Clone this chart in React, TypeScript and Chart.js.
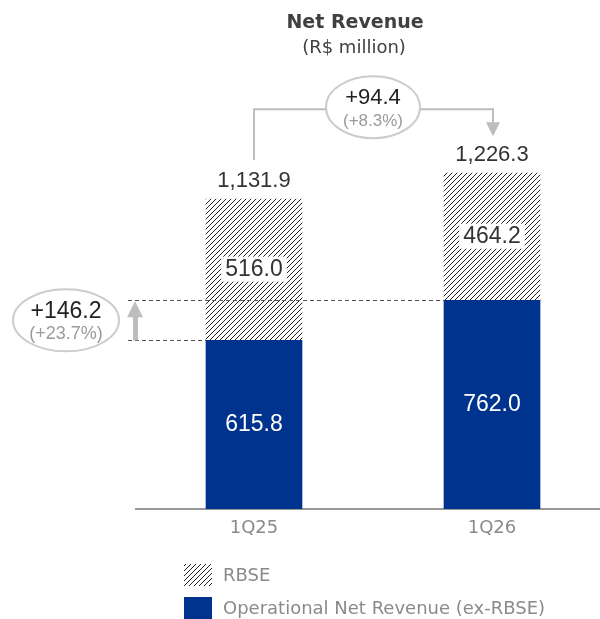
import React, { useEffect, useRef } from 'react';
import { Chart, registerables } from 'chart.js';

Chart.register(...registerables);

const categories = ['1Q25', '1Q26'];
const operationalValues = [615.8, 762.0];
const rbseValues = [516.0, 464.2];
const totalValues = [1131.9, 1226.3];
const seriesLabels = ['Operational Net Revenue (ex-RBSE)', 'RBSE'];
const titleText = 'Net Revenue';
const subtitleText = '(R$ million)';

const BLUE = '#00338D';
const SANS = '"Liberation Sans", Arial, sans-serif';
const DEJA = '"DejaVu Sans", Verdana, sans-serif';

function fmt(v: number): string {
  const fixed = Math.abs(v).toFixed(1);
  const [ip, dp] = fixed.split('.');
  const withComma = ip.replace(/\B(?=(\d{3})+(?!\d))/g, ',');
  return (v < 0 ? '-' : '') + withComma + '.' + dp;
}

function makeHatch(): CanvasPattern | string {
  const c = document.createElement('canvas');
  c.width = 5;
  c.height = 5;
  const g = c.getContext('2d');
  if (!g) return '#888';
  g.fillStyle = '#ffffff';
  g.fillRect(0, 0, 5, 5);
  g.strokeStyle = '#222222';
  g.lineWidth = 1;
  g.beginPath();
  g.moveTo(0, 5);
  g.lineTo(5, 0);
  g.moveTo(-1, 1);
  g.lineTo(1, -1);
  g.moveTo(4, 6);
  g.lineTo(6, 4);
  g.stroke();
  const p = g.createPattern(c, 'repeat');
  return p || '#888';
}

function labelBox(ctx: CanvasRenderingContext2D, text: string, x: number, y: number) {
  const w = ctx.measureText(text).width;
  ctx.fillStyle = '#ffffff';
  ctx.fillRect(x - w / 2 - 4, y - 12, w + 8, 25);
  ctx.fillStyle = '#333333';
  ctx.fillText(text, x, y + 1);
}

function ellipseBadge(
  ctx: CanvasRenderingContext2D,
  cx: number,
  cy: number,
  rx: number,
  ry: number,
  main: string,
  sub: string,
  mainSize: number,
  subSize: number
) {
  ctx.beginPath();
  ctx.ellipse(cx, cy, rx, ry, 0, 0, Math.PI * 2);
  ctx.fillStyle = '#ffffff';
  ctx.fill();
  ctx.lineWidth = 2;
  ctx.strokeStyle = '#cccccc';
  ctx.stroke();
  ctx.textAlign = 'center';
  ctx.textBaseline = 'middle';
  ctx.fillStyle = '#222222';
  ctx.font = `${mainSize}px ${SANS}`;
  ctx.fillText(main, cx, cy - 9);
  ctx.fillStyle = '#9a9a9a';
  ctx.font = `${subSize}px ${SANS}`;
  ctx.fillText(sub, cx, cy + 14);
}

const annotPlugin = {
  id: 'annot',
  afterDatasetsDraw(chart: any) {
    const ctx: CanvasRenderingContext2D = chart.ctx;
    const m0 = chart.getDatasetMeta(0);
    const m1 = chart.getDatasetMeta(1);
    const blue0 = m0.data[0] as any;
    const blue1 = m0.data[1] as any;
    const hat0 = m1.data[0] as any;
    const hat1 = m1.data[1] as any;
    const base = chart.scales.y.getPixelForValue(0);
    ctx.save();

    // title
    ctx.textAlign = 'center';
    ctx.textBaseline = 'middle';
    ctx.fillStyle = '#404040';
    ctx.font = `bold 19px ${DEJA}`;
    ctx.fillText(titleText, 355, 23);
    ctx.font = `18px ${DEJA}`;
    ctx.fillStyle = '#404040';
    ctx.fillText(subtitleText, 354, 48);

    // totals
    const tot0 = totalValues[0];
    const tot1 = totalValues[1];
    ctx.font = `22px ${SANS}`;
    ctx.fillStyle = '#333333';
    ctx.fillText(fmt(tot0), hat0.x, hat0.y - 18);
    ctx.fillText(fmt(tot1), hat1.x, hat1.y - 18);

    // RBSE inner labels
    ctx.font = `23px ${SANS}`;
    labelBox(ctx, fmt(rbseValues[0]), hat0.x, (hat0.y + hat0.base) / 2 - 1);
    labelBox(ctx, fmt(rbseValues[1]), hat1.x, (hat1.y + hat1.base) / 2 - 1);

    // operational inner labels
    ctx.fillStyle = '#ffffff';
    ctx.fillText(fmt(operationalValues[0]), blue0.x, (blue0.y + base) / 2);
    ctx.fillText(fmt(operationalValues[1]), blue1.x, (blue1.y + base) / 2);

    // bracket between totals
    const bracketY = Math.min(hat0.y, hat1.y) - 64;
    ctx.strokeStyle = '#bdbdbd';
    ctx.lineWidth = 2;
    ctx.beginPath();
    ctx.moveTo(hat0.x, hat0.y - 39);
    ctx.lineTo(hat0.x, bracketY);
    ctx.lineTo(hat1.x + 1, bracketY);
    ctx.lineTo(hat1.x + 1, hat1.y - 50);
    ctx.stroke();
    ctx.fillStyle = '#bdbdbd';
    ctx.beginPath();
    ctx.moveTo(hat1.x + 1 - 7, hat1.y - 51);
    ctx.lineTo(hat1.x + 1 + 7, hat1.y - 51);
    ctx.lineTo(hat1.x + 1, hat1.y - 37);
    ctx.closePath();
    ctx.fill();
    const diffTot = tot1 - tot0;
    ellipseBadge(
      ctx,
      (hat0.x + hat1.x) / 2,
      bracketY - 2,
      47,
      31,
      '+' + fmt(diffTot),
      '(+' + ((diffTot / tot0) * 100).toFixed(1) + '%)',
      22,
      17
    );

    // dashed reference lines
    ctx.setLineDash([4, 3]);
    ctx.strokeStyle = '#555555';
    ctx.lineWidth = 1;
    ctx.beginPath();
    ctx.moveTo(128, Math.round(blue1.y) + 0.5);
    ctx.lineTo(blue1.x - blue1.width / 2, Math.round(blue1.y) + 0.5);
    ctx.moveTo(128, Math.round(blue0.y) + 0.5);
    ctx.lineTo(blue0.x - blue0.width / 2, Math.round(blue0.y) + 0.5);
    ctx.stroke();
    ctx.setLineDash([]);

    // up arrow
    const ax = 135;
    const yLow = blue0.y;
    const yHigh = blue1.y + 1;
    ctx.fillStyle = '#bdbdbd';
    ctx.fillRect(ax - 2, yHigh + 14, 5, yLow - yHigh - 14);
    ctx.beginPath();
    ctx.moveTo(ax - 8, yHigh + 16);
    ctx.lineTo(ax + 8, yHigh + 16);
    ctx.lineTo(ax, yHigh);
    ctx.closePath();
    ctx.fill();

    const diffOp = operationalValues[1] - operationalValues[0];
    ellipseBadge(
      ctx,
      66,
      (blue0.y + blue1.y) / 2,
      53,
      31,
      '+' + fmt(diffOp),
      '(+' + ((diffOp / operationalValues[0]) * 100).toFixed(1) + '%)',
      23,
      18
    );

    ctx.restore();
  },
  afterDraw(chart: any) {
    const ctx: CanvasRenderingContext2D = chart.ctx;
    ctx.save();
    const items = [
      { label: seriesLabels[1], fill: chart.data.datasets[1].backgroundColor },
      { label: seriesLabels[0], fill: chart.data.datasets[0].backgroundColor },
    ];
    ctx.font = `18px ${DEJA}`;
    ctx.textAlign = 'left';
    ctx.textBaseline = 'middle';
    items.forEach((it, i) => {
      const top = 564 + i * 33;
      ctx.fillStyle = it.fill;
      ctx.fillRect(184, top, 28, 22);
      ctx.fillStyle = '#8a8a8a';
      ctx.fillText(it.label, 223, top + 12);
    });
    ctx.restore();
  },
};

export default function App() {
  const ref = useRef<HTMLCanvasElement | null>(null);

  useEffect(() => {
    document.body.style.margin = '0';
    document.body.style.overflow = 'hidden';
    const canvas = ref.current;
    if (!canvas) return;
    const hatch = makeHatch();
    const chart = new Chart(canvas, {
      type: 'bar',
      data: {
        datasets: [
          {
            label: seriesLabels[0],
            data: operationalValues.map((v, i) => ({ x: i, y: v })),
            backgroundColor: BLUE,
            borderWidth: 0,
            barThickness: 96,
          },
          {
            label: seriesLabels[1],
            data: rbseValues.map((v, i) => ({ x: i, y: v })),
            backgroundColor: hatch as any,
            borderWidth: 0,
            barThickness: 96,
          },
        ],
      },
      options: {
        responsive: false,
        animation: false,
        events: [],
        layout: { padding: { left: 136, top: 16, right: 0, bottom: 0 } },
        plugins: {
          legend: { display: false },
          tooltip: { enabled: false },
          title: { display: false },
        },
        scales: {
          x: {
            type: 'linear',
            stacked: true,
            offset: false,
            min: -0.4958,
            max: 1.4538,
            grid: { display: false, offset: false },
            border: { display: true, color: '#999999', width: 2 },
            afterBuildTicks: (s: any) => {
              s.ticks = categories.map((_, i) => ({ value: i }));
            },
            afterFit: (s: any) => {
              s.height = 110;
            },
            ticks: {
              autoSkip: false,
              maxRotation: 0,
              padding: 1,
              color: '#8a8a8a',
              font: { family: '"DejaVu Sans", Verdana, sans-serif', size: 18 },
              callback: (v: any) => categories[Number(v)] ?? '',
            },
          },
          y: {
            type: 'linear',
            stacked: true,
            display: false,
            min: 0,
            max: 1800,
          },
        },
      },
      plugins: [annotPlugin],
    } as any);
    return () => chart.destroy();
  }, []);

  return (
    <div style={{ width: 600, height: 619 }}>
      <canvas ref={ref} width={600} height={619} style={{ display: 'block', width: 600, height: 619 }} />
    </div>
  );
}
